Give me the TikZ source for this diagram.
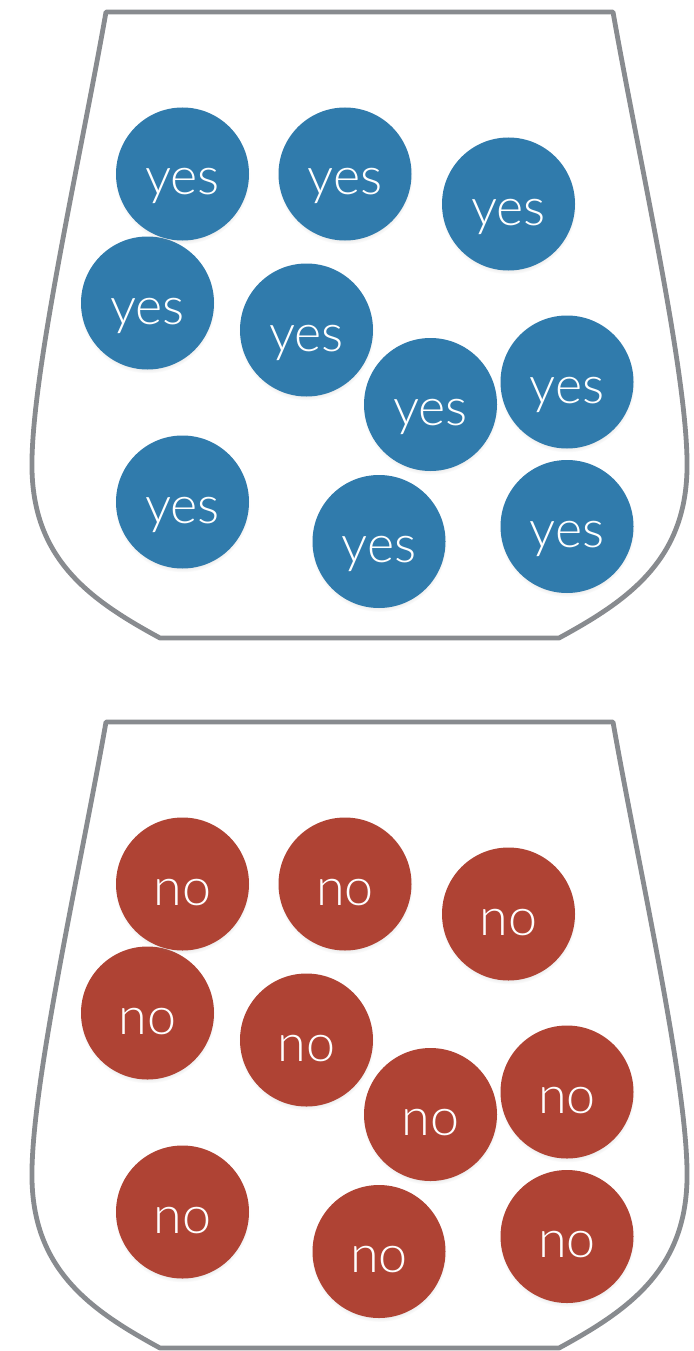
\documentclass[tikz,border=0pt]{standalone}
\usepackage{fontspec}
\setmainfont{Lato}[UprightFont=* Light]
\usetikzlibrary{shadows}
\definecolor{jargray}{RGB}{136,139,143}
\definecolor{yesblue}{RGB}{48,123,172}
\definecolor{nored}{RGB}{175,67,52}
\begin{document}
\begin{tikzpicture}[x=1pt,y=-1pt,
  ball/.style={circle, minimum size=133pt, inner sep=0pt, draw=none,
    circular drop shadow={shadow xshift=0pt, shadow yshift=-2.5pt, shadow scale=1.02, opacity=0.3}},
  yesball/.style={ball, fill=yesblue},
  noball/.style={ball, fill=nored},
  balltext/.style={anchor=base, text=white, font=\fontsize{52}{62}\selectfont, inner sep=0pt},
  jar/.style={draw=jargray, line width=4.8pt, line join=round, fill=white}]
\useasboundingbox (0,0) rectangle (693,1351);
\fill[white] (0,0) rectangle (693,1351);
% jars
\foreach \oy in {0,710} {
  \begin{scope}[shift={(0,\oy)}]
    \draw[jar] (106,12) -- (613,12)
      .. controls (639,160) and (689,380) .. (687,470)
      .. controls (685,560) and (629,600) .. (559,638)
      -- (160,638)
      .. controls (90,600) and (34,560) .. (32,470)
      .. controls (30,380) and (80,160) .. (106,12) -- cycle;
  \end{scope}
}
% yes balls
\foreach \n/\cx/\cy in {4/147.5/303, 1/182.5/174, 2/345/174, 3/508.5/204, 5/306.5/330,
                        6/430.5/404.5, 7/567/382, 8/182.5/502, 9/379/541.5, 10/567/526.5} {
  \node[yesball] (yes\n) at (\cx,\cy) {};
  \node[balltext] (yestext\n) at ([yshift=-21pt]yes\n.center) {yes};
}
% no balls
\begin{scope}[shift={(0,710)}]
\foreach \n/\cx/\cy in {4/147.5/303, 1/182.5/174, 2/345/174, 3/508.5/204, 5/306.5/330,
                        6/430.5/404.5, 7/567/382, 8/182.5/502, 9/379/541.5, 10/567/526.5} {
  \node[noball] (no\n) at (\cx,\cy) {};
  \node[balltext] (notext\n) at ([yshift=-21pt]no\n.center) {no};
}
\end{scope}
\end{tikzpicture}
\end{document}
